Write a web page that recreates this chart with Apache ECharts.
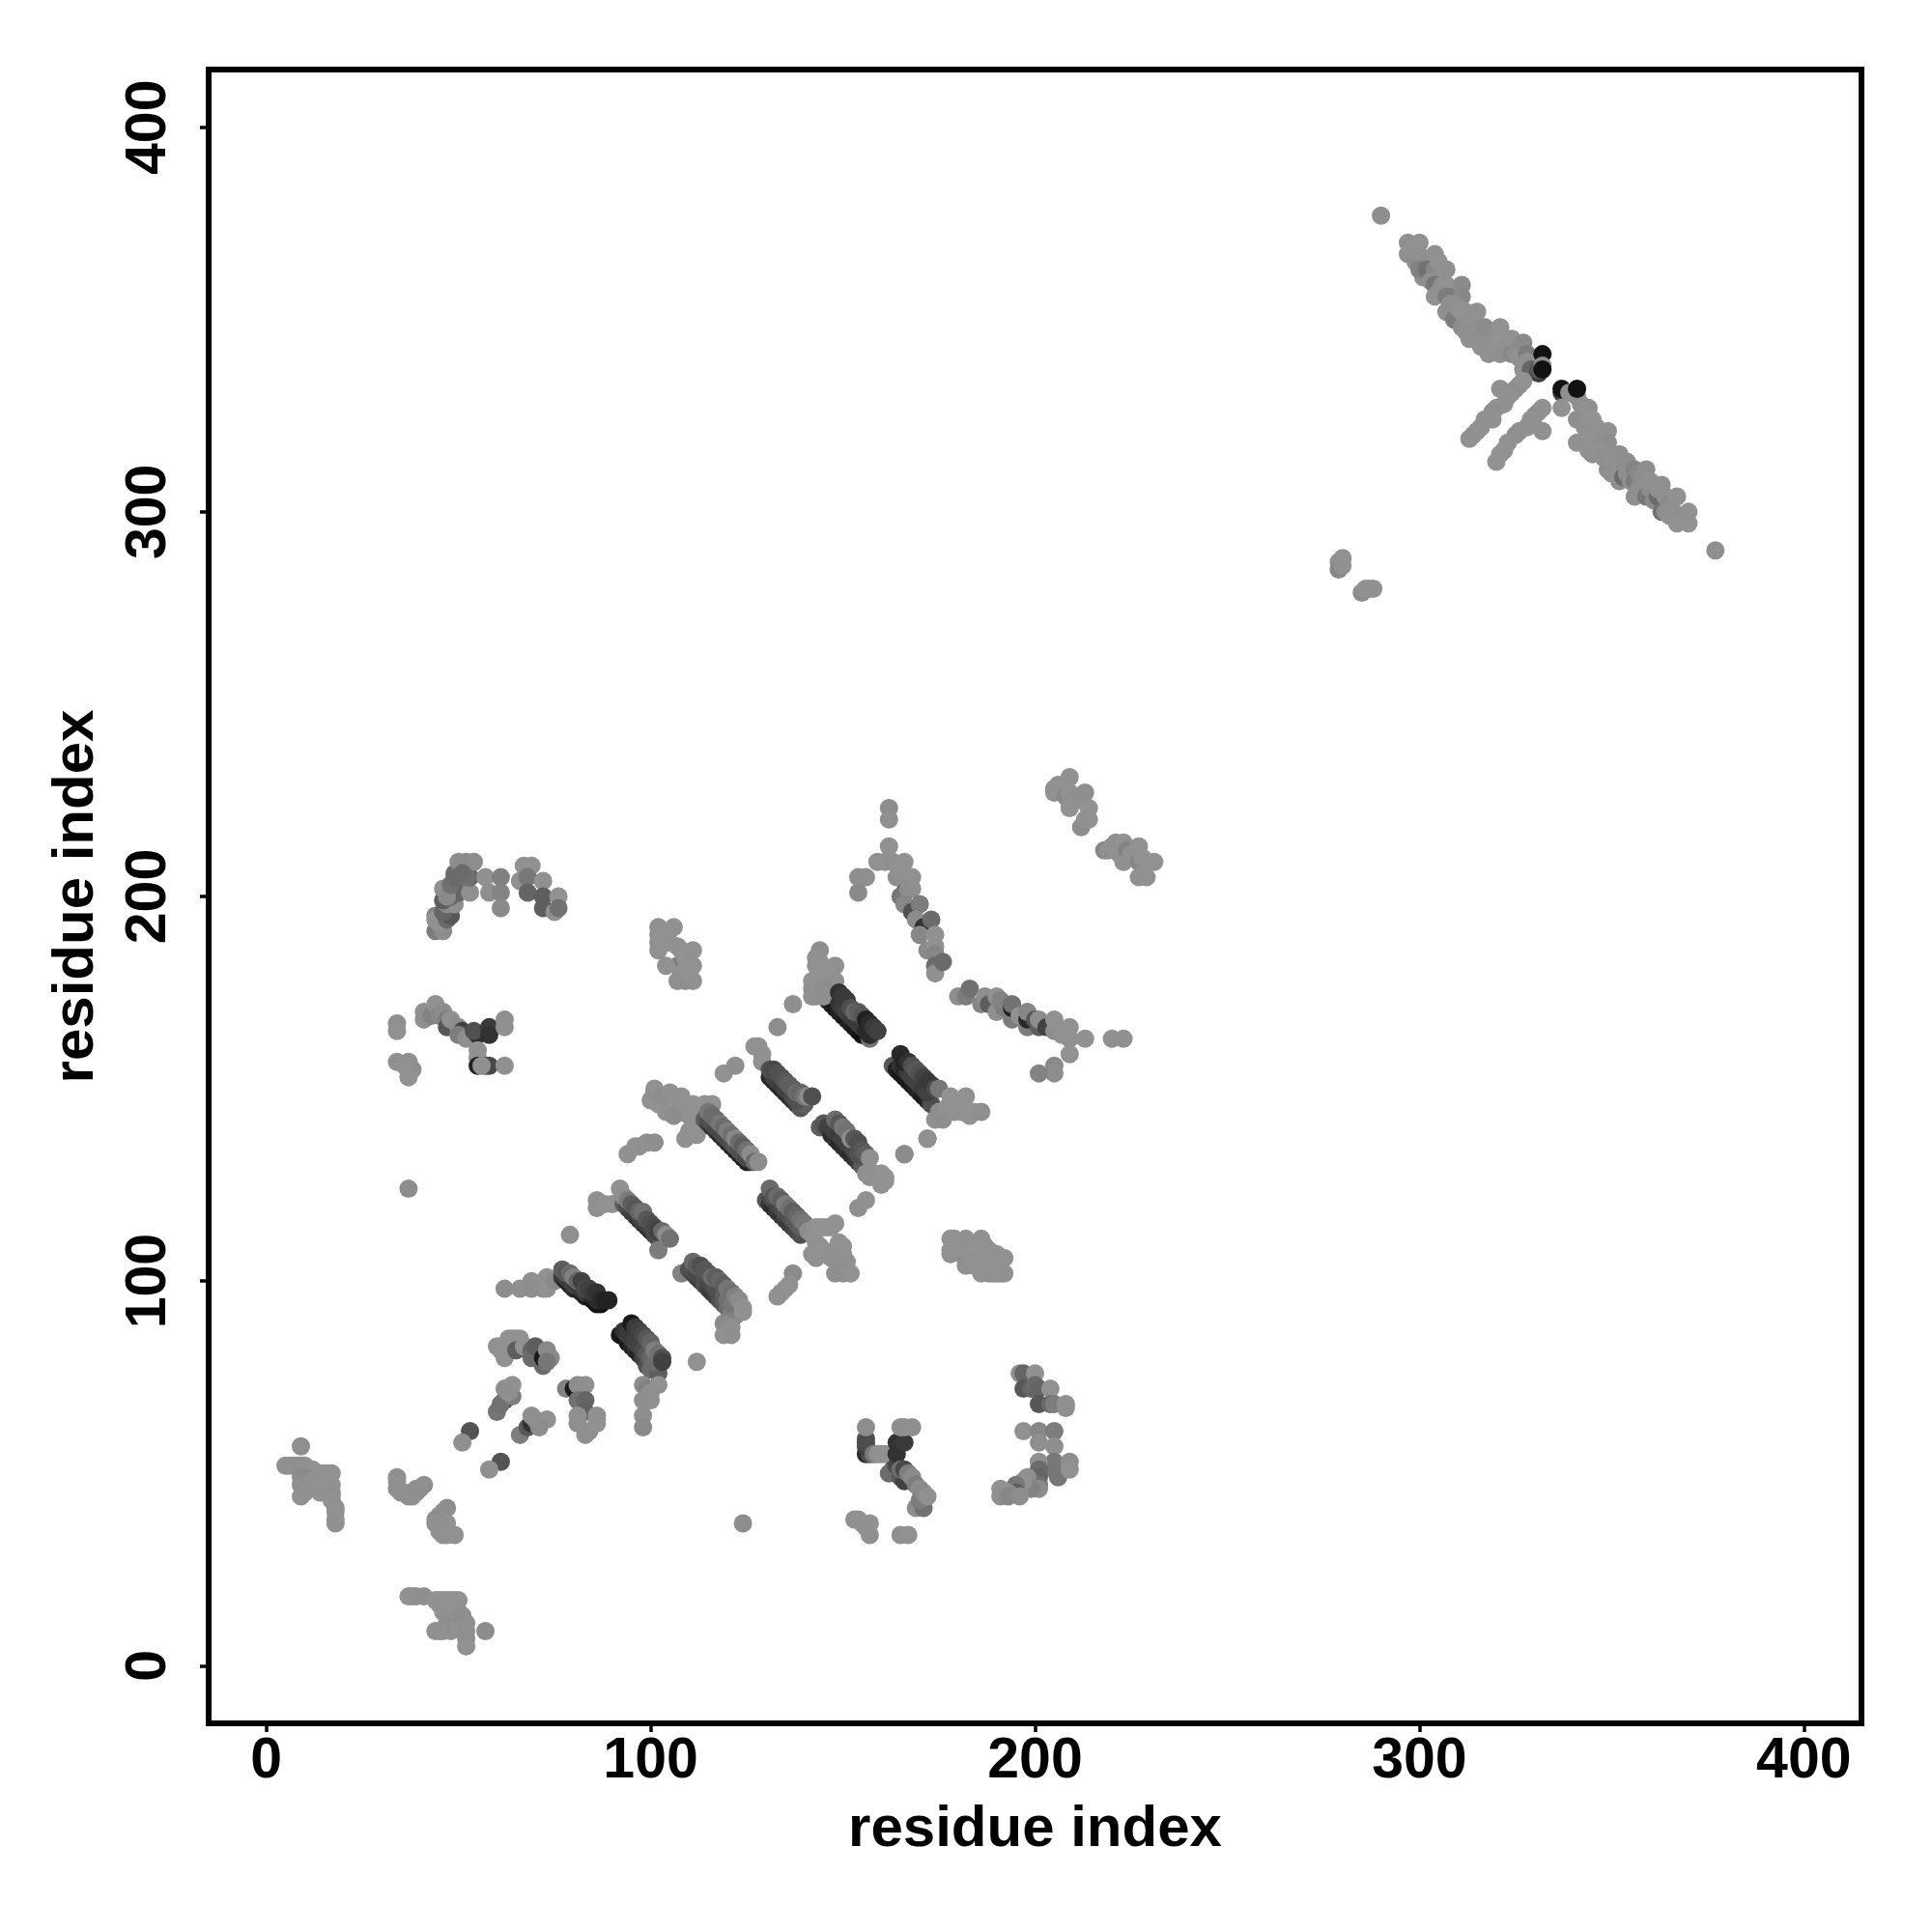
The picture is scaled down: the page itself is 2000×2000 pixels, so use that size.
<!DOCTYPE html>
<html><head><meta charset="utf-8">
<style>html,body{margin:0;padding:0;background:#fff}#c{width:2000px;height:2000px}</style>
<script src="https://cdn.jsdelivr.net/npm/echarts@6/dist/echarts.min.js"></script>
</head><body><div id="c"></div>
<script>
// Each contact: [residue i, residue j, strength 0-100+]
const tickValues = [0, 100, 200, 300, 400];
const axisTitle = 'residue index';

const nTermA = [[9,57,6],[5,52,2],[6,52,2],[7,52,2],[8,52,3],[9,52,6],[10,52,4],[11,51,2],[12,51,3],[13,50,2],[14,50,1],[15,50,1],[16,50,1],[17,50,1],[9,49,8],[10,49,12],[9,47,4],[10,46,6],[11,47,8],[12,48,3],[9,44,2],[10,45,2],[13,46,3],[14,45,2],[15,47,3],[16,45,3],[17,47,1],[17,45,3],[17,44,4],[17,43,3],[18,41,5],[18,40,3],[18,38,3],[18,37,3]];
const nTermB = [[34,49,4],[34,48,3],[34,46,3],[35,45,3],[36,45,2],[37,44,4],[38,44,5],[38,45,3],[39,45,5],[39,46,6],[40,46,5],[41,47,6],[47,41,8],[46,40,6],[45,39,6],[44,38,8],[44,37,4],[46,36,3],[47,37,2],[45,35,3],[46,34,3],[47,34,2],[49,34,3]];
const nTermC = [[37,18,3],[38,18,3],[39,18,3],[41,18,5],[44,17,1],[45,17,1],[46,17,1],[47,17,1],[48,17,2],[49,17,1],[50,17,1],[44,9,3],[45,9,3],[46,9,3],[46,14,3],[47,15,3],[45,16,2],[47,11,5],[48,13,6],[49,15,3],[48,9,3],[49,10,8],[50,10,3],[51,9,3],[50,14,3],[51,13,8],[52,11,6],[52,9,4],[52,7,5],[52,5,3],[57,9,8]];
const strandA = [[53,61,58],[51,58,6],[61,53,58],[58,51,6],[60,66,32],[62,69,68],[61,68,35],[62,72,8],[64,70,25],[64,73,3],[63,71,6],[66,60,25],[68,62,55],[69,63,80],[70,64,18],[73,64,3],[71,62,8],[69,65,6]];
const strandB = [[60,83,4],[61,82,3],[62,80,3],[63,85,1],[64,85,1],[65,85,1],[66,85,2],[65,82,50],[67,83,3],[69,82,45],[69,80,40],[70,83,50],[72,78,40],[72,80,95],[73,82,12],[74,80,12],[73,79,30]];
const strandC = [[78,72,20],[80,72,95],[81,73,8],[82,72,6],[83,73,5],[81,69,35],[83,69,45],[83,66,48],[81,63,5],[81,65,4],[83,60,6],[84,61,5],[86,65,2],[86,64,2],[86,63,2]];
const helixA = [[62,98,10],[66,98,5],[69,100,4],[69,98,8],[72,98,6],[73,98,3],[73,101,2],[75,100,12],[77,101,75],[78,100,90],[79,99,90],[80,98,85],[81,98,90],[82,97,90],[83,96,90],[84,96,95],[85,95,100],[86,94,100],[87,94,100],[78,101,70],[79,100,75],[80,99,70],[81,99,75],[82,98,75],[83,97,75],[84,97,80],[85,96,85],[86,95,85],[77,103,50],[78,102,55],[79,102,40],[80,101,20],[81,100,45],[82,100,70],[83,98,65],[84,98,70],[85,97,75],[86,97,80],[87,95,85],[88,95,90],[89,95,90]];
const helixB = [[92,86,95],[93,86,100],[94,84,95],[95,83,90],[96,82,85],[97,81,90],[98,80,70],[99,78,60],[100,77,40],[102,76,50],[98,73,10],[99,72,20],[102,73,2],[100,71,6],[100,69,5],[98,69,6],[98,65,6],[98,62,12],[93,87,80],[94,86,75],[95,85,75],[96,84,70],[97,83,70],[98,82,65],[99,81,55],[100,80,45],[101,79,40],[95,89,95],[96,88,75],[97,87,70],[98,86,65],[99,85,55],[100,84,45],[101,82,25],[102,81,35],[103,80,60],[103,79,70]];
const helixC = [[79,112,5],[86,121,4],[86,119,5],[88,120,1],[90,120,1],[93,120,50],[94,119,60],[95,118,75],[96,117,70],[97,116,80],[98,115,75],[99,114,80],[100,113,85],[101,112,70],[102,111,60],[102,108,25],[94,120,65],[95,119,65],[96,118,75],[97,117,70],[98,116,70],[99,115,70],[100,114,70],[101,113,65],[92,124,3],[93,122,6],[94,121,25],[95,120,50],[96,119,55],[97,118,45],[98,118,35],[99,116,55],[100,115,60],[101,114,65],[102,113,70],[103,113,40],[104,112,10],[105,111,35]];
const helixD = [[108,102,20],[110,103,60],[111,102,65],[112,101,70],[113,100,75],[114,99,60],[115,98,70],[116,97,75],[117,96,70],[118,95,60],[119,94,55],[120,93,40],[121,92,25],[122,91,20],[111,103,60],[112,102,65],[113,102,65],[114,101,60],[115,100,65],[116,99,65],[117,98,60],[118,97,60],[119,96,50],[120,95,35],[121,94,30],[111,105,40],[112,104,50],[113,104,60],[114,103,55],[115,102,55],[116,101,40],[117,101,50],[118,100,45],[119,99,50],[120,98,30],[121,97,35],[122,96,20],[123,95,10],[124,93,2],[124,92,3],[119,89,12],[121,88,6],[119,86,4],[121,86,6],[112,79,3]];
const helixE = [[130,121,55],[131,120,80],[132,119,85],[133,118,75],[134,117,80],[135,116,70],[136,115,75],[137,114,70],[138,113,65],[139,112,60],[131,122,65],[132,121,65],[133,120,70],[134,119,65],[135,118,60],[136,117,60],[137,116,55],[138,115,55],[139,114,50],[131,124,40],[132,122,55],[133,122,40],[134,121,50],[135,120,25],[136,119,35],[137,118,50],[138,117,45],[139,116,35],[140,115,30],[149,105,55],[149,103,45],[141,113,8],[142,112,5],[143,114,2],[144,114,1],[145,114,1],[146,114,2],[147,114,1],[148,115,1],[143,110,3],[144,109,3],[142,107,3],[143,106,3],[145,108,1],[146,107,2],[147,106,4],[148,108,6],[149,110,2],[150,109,3],[150,107,2],[151,105,2],[148,102,5],[150,102,5],[152,102,0],[137,102,10],[136,99,2],[135,98,3],[134,97,2],[133,96,3]];
const helixF = [[119,154,3],[122,156,6],[127,161,3],[128,161,3],[129,159,3],[129,157,2],[101,149,35],[104,144,4],[101,150,3],[100,147,3],[102,146,3],[103,148,8],[105,149,3],[106,147,3],[108,148,2],[109,145,1],[110,143,2],[111,146,1],[112,144,1],[114,146,2],[115,145,1],[116,146,3],[114,142,4],[115,143,3],[112,141,3],[108,144,2],[106,143,8],[110,139,3],[109,137,3],[112,138,3],[94,133,3],[96,135,3],[97,135,2],[99,136,4],[101,136,6]];
const helixG = [[114,142,50],[115,141,70],[116,140,80],[117,139,75],[118,138,85],[119,137,80],[120,136,85],[121,135,85],[122,134,90],[123,133,85],[124,132,90],[125,131,90],[126,131,90],[115,142,60],[116,141,60],[117,140,65],[118,139,65],[119,138,65],[120,137,65],[121,136,60],[122,135,55],[123,134,60],[124,133,60],[125,132,65],[115,144,30],[116,143,40],[117,142,40],[118,141,30],[119,140,40],[120,139,25],[121,138,35],[122,137,15],[123,136,40],[124,135,50],[125,134,35],[126,133,10],[127,131,40],[128,131,8]];
const helixH = [[144,140,50],[145,141,55],[146,140,70],[147,138,85],[148,137,80],[149,136,85],[150,135,85],[151,134,80],[152,133,85],[153,132,80],[154,131,75],[155,130,55],[147,140,70],[148,139,70],[149,138,75],[150,137,70],[151,136,70],[152,135,70],[153,134,65],[154,133,60],[148,142,40],[149,141,55],[150,140,30],[151,139,35],[152,137,10],[153,137,55],[154,136,60],[155,134,55],[156,133,50],[157,132,5],[156,128,4],[157,127,3],[158,128,2],[159,127,3],[160,128,0],[161,127,0],[161,126,1],[160,125,0],[157,128,3],[166,133,10],[172,137,4],[156,121,3],[154,119,5]];
const helixI = [[131,153,85],[132,152,90],[133,151,85],[134,150,90],[135,149,85],[136,148,85],[137,147,80],[138,146,75],[139,145,55],[140,146,50],[132,153,70],[133,152,70],[134,151,75],[135,150,70],[136,149,70],[137,148,65],[138,147,60],[131,155,60],[132,155,65],[133,154,60],[134,153,60],[135,152,55],[136,151,50],[137,150,50],[138,149,40],[139,149,45],[140,148,30],[141,148,10],[142,148,60]];
const helixJ = [[146,173,70],[147,172,90],[148,171,95],[149,170,90],[150,169,90],[151,168,95],[152,167,90],[153,166,95],[154,165,95],[155,164,100],[156,164,100],[157,163,35],[144,186,5],[143,184,2],[143,182,2],[144,183,3],[145,180,1],[148,182,2],[147,179,1],[148,178,2],[146,177,3],[142,178,1],[142,176,3],[142,174,6],[143,174,5],[144,175,4],[145,176,8],[145,174,5],[149,172,80],[150,171,75],[151,170,70],[152,169,75],[153,168,75],[154,167,75],[155,166,75],[156,165,85],[157,164,85],[149,175,80],[150,174,75],[151,173,75],[152,171,60],[153,170,45],[154,170,50],[155,169,55],[156,168,90],[157,167,85],[158,166,75],[159,165,70],[137,172,5],[133,166,8]];
const helixK = [[163,156,55],[164,155,90],[165,154,95],[166,153,95],[167,152,95],[168,151,95],[169,150,90],[170,149,90],[171,148,95],[172,147,90],[173,146,60],[165,156,80],[166,155,85],[167,154,75],[168,153,70],[169,152,70],[170,151,70],[171,150,75],[172,149,70],[165,159,85],[166,157,90],[167,157,80],[168,156,60],[169,155,55],[170,154,60],[171,153,70],[172,152,75],[173,151,75],[174,150,65],[175,150,30],[174,142,3],[176,142,5],[175,144,8],[177,145,3],[178,148,1],[179,144,2],[180,146,1],[182,148,2],[181,144,3],[183,143,3],[184,144,1],[186,144,5],[172,137,4],[166,133,10]];
const pocketA = [[183,109,25],[181,107,20],[178,111,3],[179,111,3],[178,108,3],[178,107,3],[180,110,2],[182,111,3],[182,108,2],[183,107,2],[186,111,3],[186,109,2],[185,107,1],[187,109,2],[188,108,3],[189,106,4],[190,107,3],[192,106,3],[184,105,2],[182,104,2],[184,104,2],[186,102,2],[187,103,1],[188,102,2],[189,102,2],[190,102,2],[191,102,2],[192,102,2],[186,105,1]];
const pocketB = [[156,55,85],[157,55,60],[156,57,70],[156,59,60],[156,58,62],[156,62,8],[158,55,30],[159,55,8],[160,55,3],[161,55,3],[163,51,60],[162,50,40],[164,52,65],[165,49,55],[166,48,70],[164,55,80],[164,58,80],[166,58,75],[165,62,6],[166,62,5],[168,62,6],[165,51,40],[166,51,65],[167,50,25],[168,49,12],[169,47,25],[169,41,10],[171,41,35],[170,46,10],[171,44,30],[170,43,25],[171,45,12],[172,44,2],[153,38,2],[154,38,3],[155,37,2],[157,37,0],[156,36,3],[157,34,4],[165,34,4],[167,34,3],[124,37,8]];
const pocketC = [[196,76,4],[197,76,45],[200,76,2],[197,72,55],[199,72,45],[200,73,40],[201,72,45],[204,72,2],[201,68,55],[204,68,40],[205,68,25],[208,68,2],[208,67,5],[197,61,2],[201,61,15],[205,61,25],[201,58,5],[205,57,5],[205,53,30],[205,51,30],[206,49,30],[209,53,8],[209,51,3],[201,53,5],[201,51,40],[201,49,45],[201,47,35],[201,46,10],[198,49,6],[198,47,15],[199,46,20],[197,48,3],[195,47,30],[195,45,50],[193,45,10],[191,46,3],[191,44,6],[193,44,15],[196,44,8]];
const loopA = [[44,191,25],[46,191,10],[45,193,4],[44,195,20],[44,194,3],[47,194,40],[48,195,55],[46,196,45],[47,198,12],[49,198,5],[46,199,50],[46,202,4],[48,200,40],[50,201,45],[47,200,12],[48,203,35],[53,201,5],[49,206,40],[50,205,45],[53,205,45],[49,205,40],[50,209,8],[52,209,10],[54,209,8],[52,205,35],[51,206,40],[57,205,4],[58,201,5],[61,205,22],[61,201,18],[61,197,12]];
const loopB = [[66,204,4],[67,208,3],[69,208,3],[68,205,30],[68,201,45],[72,204,2],[72,200,50],[72,197,50],[75,196,3],[76,200,1],[76,197,35]];
const loopC = [[34,167,6],[34,165,3],[34,157,4],[37,157,4],[38,155,5],[37,153,3],[36,156,3],[41,168,6],[41,170,5],[43,169,20],[44,172,2],[45,169,15],[46,170,10],[47,168,25],[47,166,55],[48,168,2],[50,166,8],[51,165,70],[50,164,25],[52,163,6],[55,164,85],[54,165,60],[58,166,75],[58,164,80],[62,168,5],[62,166,4],[55,160,2],[55,158,3],[55,156,90],[57,156,65],[58,156,65],[62,156,4],[56,156,4],[37,124,8]];
const blobA = [[107,182,25],[102,192,4],[102,190,3],[106,192,3],[102,188,2],[102,186,3],[104,182,3],[105,188,2],[107,187,2],[108,186,2],[109,184,1],[111,186,2],[108,180,3],[107,178,6],[111,182,3],[111,178,2],[109,178,6],[110,180,1]];
const armA = [[154,205,6],[156,205,6],[154,201,12],[162,223,8],[162,220,6],[162,213,3],[159,209,3],[161,209,3],[163,209,4],[164,205,5],[166,209,0],[165,207,2],[168,205,2],[166,201,50],[165,200,30],[167,202,8],[168,202,6],[166,198,15],[168,196,60],[170,198,25],[169,194,10],[171,192,80],[173,194,40],[170,190,15],[174,190,3],[172,186,12],[174,187,2],[174,185,15],[174,182,40],[174,180,4],[176,183,40]];
const armB = [[180,174,6],[182,174,25],[183,176,35],[186,172,15],[187,174,5],[188,172,50],[190,174,3],[190,170,5],[192,171,25],[191,173,20],[194,168,25],[194,171,90],[194,172,35],[196,169,2],[198,166,25],[198,168,85],[198,170,15],[200,168,55],[201,166,50],[201,168,8],[203,166,70],[205,165,8],[205,168,3],[207,164,3],[209,166,2],[209,163,3],[209,159,3],[213,163,3],[220,163,4],[223,163,3],[205,156,12],[205,154,8],[201,154,18]];
const blobB = [[205,228,5],[205,227,3],[206,229,2],[209,231,3],[208,226,15],[209,227,3],[209,224,5],[209,223,3],[213,227,5],[212,225,6],[212,218,8],[213,220,3],[214,223,1],[214,220,2]];
const blobC = [[218,212,15],[219,212,5],[220,213,3],[221,214,5],[223,214,3],[222,211,3],[223,209,3],[224,212,20],[225,211,3],[227,213,2],[227,209,15],[228,210,1],[231,209,2],[229,209,1],[227,205,3],[229,205,3],[228,206,2]];
const cTermA = [[280,288,2],[279,287,3],[279,285,15],[280,286,2],[285,279,8],[286,280,3],[287,280,1],[288,280,3],[290,377,6],[297,370,4],[300,370,2],[299,369,3],[297,367,6],[299,365,10],[298,368,3],[301,366,4],[302,365,5],[301,361,6],[304,367,2],[300,363,20],[302,363,35],[304,363,15],[305,365,3],[303,360,5],[305,361,6],[304,359,30],[304,356,2],[305,357,3],[306,359,4],[307,363,4],[307,359,1],[307,356,25],[309,356,25],[311,359,12],[311,356,15],[307,352,5],[308,354,6],[309,354,5],[309,350,25],[310,353,4],[311,352,0],[312,352,1],[315,352,2],[311,348,10],[313,350,3],[314,350,3],[312,347,6],[313,345,3],[315,345,3],[316,347,4],[316,343,3],[317,348,10],[319,347,8],[321,348,2],[318,341,3],[319,344,3],[320,343,2],[321,341,4],[322,342,5],[322,345,1],[323,343,4],[324,345,3],[324,341,15],[325,341,8],[326,343,8],[327,344,12],[326,340,3],[328,341,25],[327,337,3],[328,339,6],[329,337,45],[331,336,70]];
const cTermB = [[332,341,110],[331,337,55],[332,338,10],[332,337,115],[337,331,70],[337,332,115],[339,331,5],[341,332,110],[321,332,4],[326,333,2],[327,334,1],[325,332,2],[324,331,7],[323,330,3],[322,328,2],[320,327,2],[319,326,5],[319,324,2],[317,324,3],[316,322,4],[315,321,2],[314,320,1],[313,319,3],[332,327,3],[331,326,2],[330,325,6],[329,324,3],[328,322,4],[326,321,3],[325,320,6],[323,318,2],[322,316,2],[321,315,1],[320,313,1],[332,321,2],[337,327,2]];
const cTermC = [[341,330,8],[342,328,5],[344,327,6],[343,326,3],[341,324,5],[345,324,1],[343,322,4],[344,322,2],[346,322,3],[347,320,2],[341,318,4],[345,320,2],[344,316,3],[345,315,4],[346,318,3],[348,318,4],[349,321,3],[349,318,8],[347,316,3],[348,314,4],[349,311,8],[350,313,3],[350,310,5],[351,311,4],[352,315,6],[352,312,2],[352,308,4],[353,309,40],[353,313,5],[354,313,8],[354,310,5],[355,308,6],[356,311,18],[356,308,25],[357,310,14],[357,306,8],[358,309,8],[359,311,8],[358,306,5],[356,304,6],[359,304,30],[360,306,10],[360,308,2],[361,303,12],[362,304,40],[362,306,6],[363,307,6],[364,304,6],[363,300,35],[365,302,12],[364,300,8],[365,299,5],[367,304,3],[366,300,6],[368,299,5],[370,300,3],[367,297,3],[370,297,2],[377,290,5]];

const contacts = [].concat(nTermA,nTermB,nTermC,strandA,strandB,strandC,helixA,helixB,helixC,helixD,helixE,helixF,helixG,helixH,helixI,helixJ,helixK,pocketA,pocketB,pocketC,loopA,loopB,loopC,blobA,armA,armB,blobB,blobC,cTermA,cTermC,cTermB);

const shade = s => { const g = Math.max(18, Math.round(146 - 128 * Math.pow(s / 100, 1.3))); return 'rgb(' + g + ',' + g + ',' + g + ')'; };
const FONT = '"Liberation Sans", Arimo, Helvetica, Arial, sans-serif';
const axisCommon = {
  type: 'value', min: -15, max: 415, name: axisTitle, nameLocation: 'middle',
  nameTextStyle: { fontFamily: FONT, fontWeight: 'bold', fontSize: 60, color: '#000' },
  axisLine: { show: false, onZero: false }, splitLine: { show: false },
  axisTick: { show: true, customValues: tickValues, length: 9, lineStyle: { color: '#000', width: 3.5 } }
};
const chart = echarts.init(document.getElementById('c'), null, { renderer: 'canvas' });
chart.setOption({
  animation: false, backgroundColor: '#fff',
  grid: { left: 216, top: 72, width: 1711, height: 1712, show: true, borderColor: '#000', borderWidth: 6, backgroundColor: 'transparent', containLabel: false },
  xAxis: Object.assign({}, axisCommon, { nameGap: 80,
    axisLabel: { customValues: tickValues, fontFamily: FONT, fontWeight: 'bold', fontSize: 59, color: '#000', margin: 10 } }),
  yAxis: Object.assign({}, axisCommon, { nameGap: 107,
    axisLabel: { customValues: tickValues, rotate: 90, fontFamily: FONT, fontWeight: 'bold', fontSize: 59, color: '#000', margin: 32, align: 'center', verticalAlign: 'bottom' } }),
  series: [{
    type: 'scatter', symbol: 'circle', symbolSize: 19, clip: false, large: false, itemStyle: { opacity: 1 },
    data: contacts.map(c => ({ value: [c[0], c[1]], itemStyle: { color: shade(c[2]), opacity: 1 } }))
  }]
});
</script></body></html>
